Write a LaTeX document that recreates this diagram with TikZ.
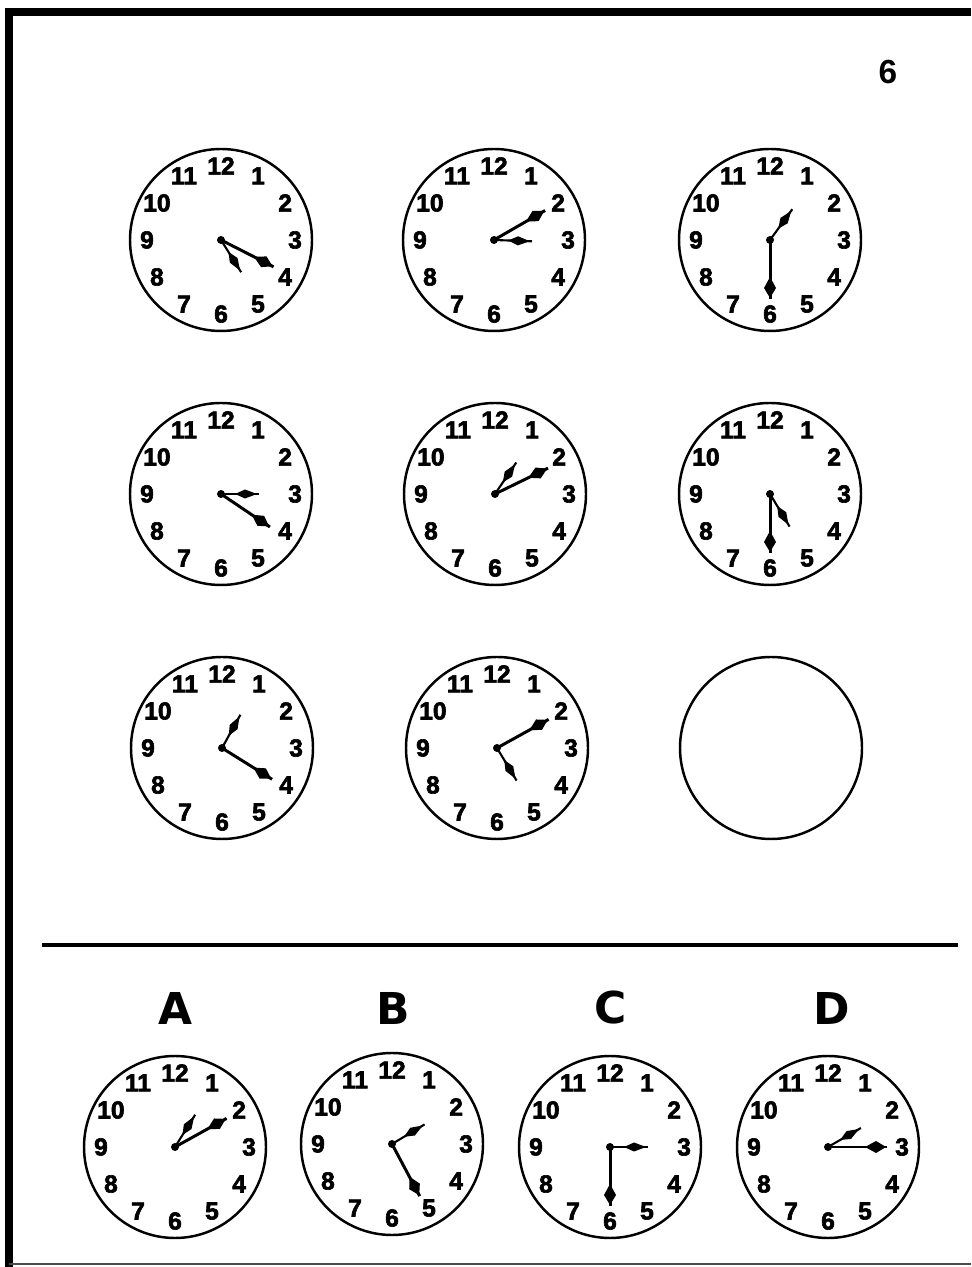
\documentclass[tikz,border=0pt]{standalone}
\usepackage{fontspec}
\setmainfont{Liberation Sans}
\newfontfamily\heavyfont{DejaVu Sans}
\newfontfamily\dialfont{Liberation Sans}[UprightFont=* Bold, FakeBold=2.5]
\usetikzlibrary{positioning}
\tikzset{
  frame/.style     = {line width=4.5pt, line join=miter, black},
  rule/.style      = {line width=2.8pt, black},
  dial/.style      = {line width=1.4pt, black},
  dialnum/.style   = {inner sep=0pt, font=\dialfont\fontsize{14}{14}\selectfont},
  optlabel/.style  = {inner sep=0pt, font=\heavyfont\fontsize{25}{25}\selectfont\bfseries},
  minhand/.style   = {line width=1.7pt, black},
  hourhand/.style  = {line width=1.2pt, black},
  pics/clock/.style 2 args = {code={
    \draw[dial] (0,0) circle (91);
    \foreach \n in {1,...,12}
      \node[dialnum] (-h\n) at ({90-30*\n}:74) {\n};
    \begin{scope}[rotate=#1]
      \draw[minhand] (0,0) -- (59,0);
      \fill (37,0) -- (48,6) -- (58,0) -- (48,-6) -- cycle;
    \end{scope}
    \begin{scope}[rotate=#2]
      \draw[hourhand] (0,0) -- (38,0);
      \fill (14,0) -- (24,4.5) -- (36,0) -- (24,-4.5) -- cycle;
    \end{scope}
    \fill (0,0) circle (4);
  }},
}
\begin{document}
\begin{tikzpicture}[x=0.02cm, y=0.02cm]
  \useasboundingbox (0,0) rectangle (971,1267);
  \draw[frame] (9,0) -- (9,1255) -- (971,1255);
  \draw[line width=0.8pt, black!70] (9,3) -- (971,3);
  \node[font=\fontsize{19}{19}\selectfont\bfseries] (pagenum) at (888,1195) {6};

  \pic (c1) at (221,1027) {clock={-27}{-58}};
  \pic (c2) at (494,1027) {clock={30}{-2}};
  \pic (c3) at (770,1027) {clock={-90}{54}};

  \pic (c4) at (221,773) {clock={-34}{0}};
  \pic (c5) at (495,773) {clock={26}{56}};
  \pic (c6) at (770,773) {clock={-90}{-59}};

  \pic (c7) at (222,519) {clock={-32}{61}};
  \pic (c8) at (497,519) {clock={29}{-59}};
  \node[dial, draw, circle, minimum size=182*0.02cm, inner sep=0pt] (blank) at (771,519) {};

  \draw[rule] (42,322) -- (958,322);

  \node[optlabel] (la) at (175,259) {A};
  \node[optlabel] (lb) at (393,259) {B};
  \node[optlabel] (lc) at (611,259) {C};
  \node[optlabel] (ld) at (832,259) {D};

  \pic (ca) at (175,120) {clock={29}{58}};
  \pic (cb) at (392,123) {clock={-62}{31}};
  \pic (cc) at (610,120) {clock={-90}{0}};
  \pic (cd) at (828,120) {clock={0}{30}};
\end{tikzpicture}
\end{document}
